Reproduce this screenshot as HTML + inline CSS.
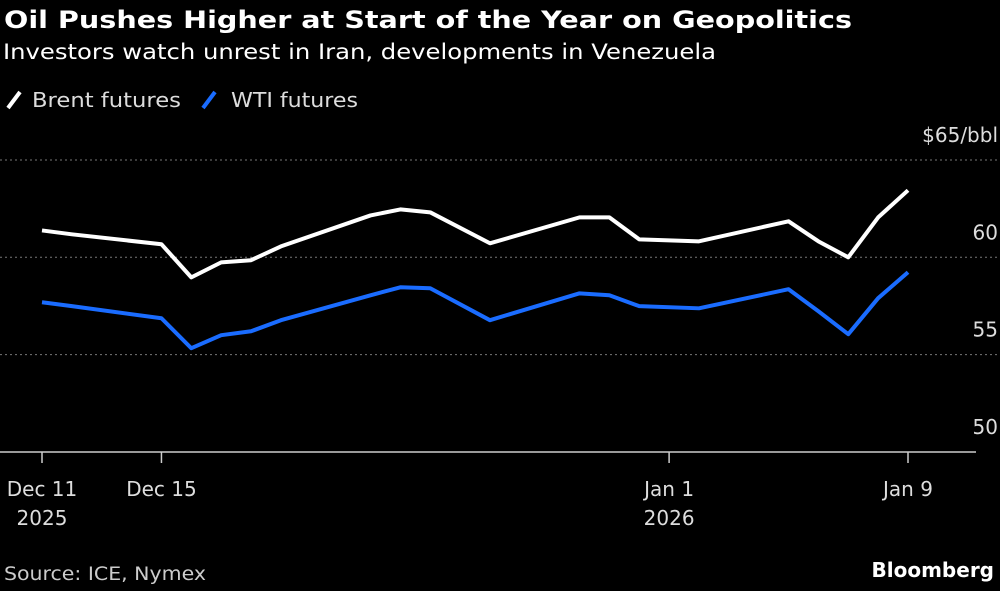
<!DOCTYPE html>
<html><head><meta charset="utf-8"><style>
body{margin:0;background:#000;width:1000px;height:587px;overflow:hidden;font-family:"DejaVu Sans",sans-serif;color:#fff}
svg text{font-family:"DejaVu Sans",sans-serif}
</style></head><body>
<svg width="1000" height="587">
<text x="4" y="28" font-size="24" font-weight="bold" fill="#fff" textLength="848" lengthAdjust="spacingAndGlyphs">Oil Pushes Higher at Start of the Year on Geopolitics</text>
<text x="3" y="59" font-size="21" fill="#fff" textLength="713" lengthAdjust="spacingAndGlyphs">Investors watch unrest in Iran, developments in Venezuela</text>
<g>
<line x1="8" y1="108" x2="20" y2="92" stroke="#fff" stroke-width="4"/>
<text x="32" y="107" font-size="20" fill="#ddd" textLength="149" lengthAdjust="spacingAndGlyphs">Brent futures</text>
<line x1="203" y1="108" x2="215" y2="92" stroke="#1a6cff" stroke-width="4"/>
<text x="231" y="107" font-size="20" fill="#ddd" textLength="127" lengthAdjust="spacingAndGlyphs">WTI futures</text>
</g>
<g id="plot"></g>
<text x="4" y="580" font-size="19" fill="#ccc" textLength="202" lengthAdjust="spacingAndGlyphs">Source: ICE, Nymex</text>
<text x="994" y="577" font-size="20" font-weight="bold" fill="#fff" text-anchor="end">Bloomberg</text>
</svg>
<script>
const days=[0,1,4,5,6,7,8,11,12,13,15,18,19,20,22,25,26,27,28,29];
const brent=[61.38,61.18,60.67,58.97,59.74,59.85,60.56,62.15,62.46,62.31,60.72,62.05,62.05,60.92,60.82,61.85,60.82,60.0,62.05,63.44];
const wti=[57.69,57.49,56.87,55.33,56.0,56.2,56.77,58.05,58.46,58.41,56.77,58.15,58.05,57.49,57.38,58.36,57.23,56.05,57.9,59.23];
const yTicks=[50,55,60,65];
const yTickLabels=["50","55","60","$65/bbl"];
const xTickDays=[0,4,21,29];
const xTickLabels=[["Dec 11","2025"],["Dec 15",""],["Jan 1","2026"],["Jan 9",""]];
const NS="http://www.w3.org/2000/svg";
const g=document.getElementById('plot');
const xS=d=>42+d*(908-42)/29;
const yS=v=>452-(v-50)*19.47;
function mk(t,a){const e=document.createElementNS(NS,t);for(const k in a)e.setAttribute(k,a[k]);g.appendChild(e);return e;}
yTicks.forEach((v,i)=>{
 if(v>50){const l=mk('line',{x1:0,x2:1000,y1:yS(v),y2:yS(v),stroke:'#777','stroke-width':1,'stroke-dasharray':'2,3'});
 
 }
 const t=mk('text',{x:998,y:yS(v)-18,'font-size':20,fill:'#ddd','text-anchor':'end'});
 t.textContent=yTickLabels[i];
 
 
});
const ax=mk('line',{x1:0,x2:976,y1:452,y2:452,stroke:'#ccc','stroke-width':1.5});


xTickDays.forEach((d,i)=>{
 const tk=mk('line',{x1:xS(d),x2:xS(d),y1:452,y2:463,stroke:'#ccc','stroke-width':1.5});
 
 
 xTickLabels[i].forEach((s,j)=>{if(!s)return;
  const t=mk('text',{x:xS(d),y:496+j*29,'font-size':20,fill:'#ddd','text-anchor':'middle'});
  t.textContent=s;
  
  });
});
function line(vals,color,name){
 const p=mk('polyline',{points:vals.map((v,i)=>xS(days[i])+','+yS(v)).join(' '),fill:'none',stroke:color,'stroke-width':4,'stroke-linejoin':'round'});
 
 
}
line(wti,'#1a6cff','wti-line');
line(brent,'#fff','brent-line');
</script>
</body></html>
